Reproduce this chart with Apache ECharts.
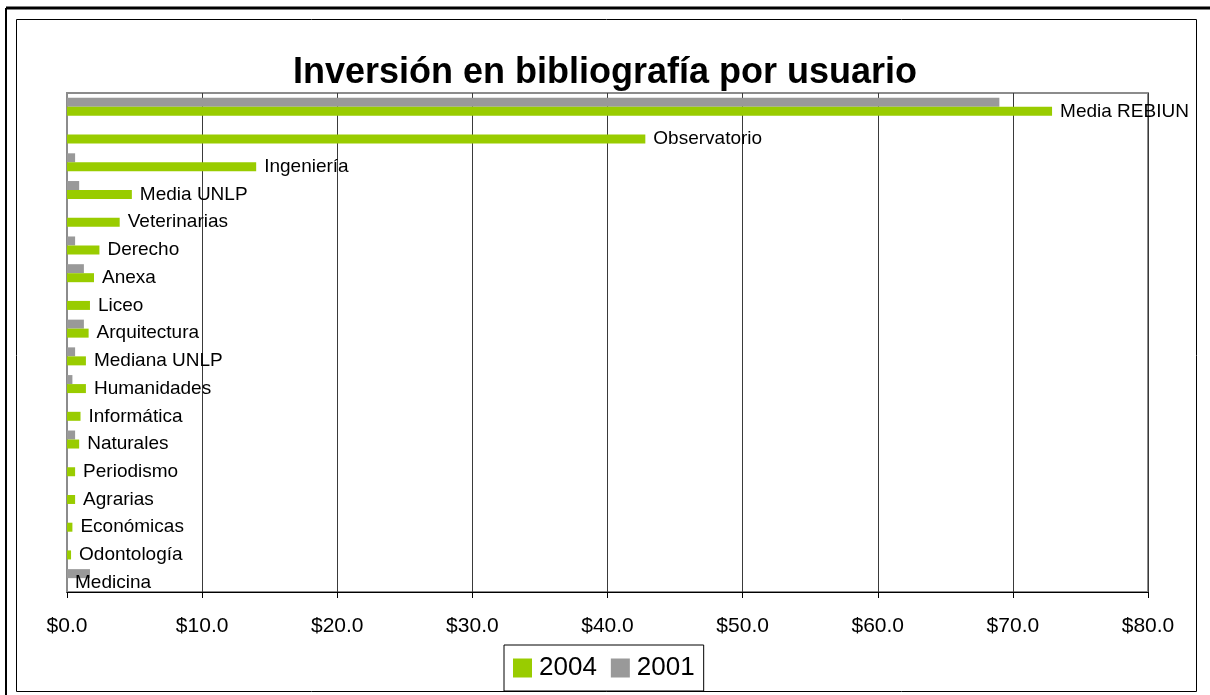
<!DOCTYPE html>
<html lang="es">
<head>
  <meta charset="UTF-8">
  <title>Inversión en bibliografía por usuario</title>
  <script src="https://cdn.jsdelivr.net/npm/echarts@6/dist/echarts.min.js"></script>
  <style>
    html, body { margin: 0; padding: 0; background: #fff; }
    #chart { width: 1210px; height: 695px; }
  </style>
</head>
<body>
<div id="chart"></div>
<script>
  // data (US$ per user)
  let categories = ['Media REBIUN', 'Observatorio', 'Ingeniería', 'Media UNLP', 'Veterinarias', 'Derecho',
    'Anexa', 'Liceo', 'Arquitectura', 'Mediana UNLP', 'Humanidades', 'Informática', 'Naturales',
    'Periodismo', 'Agrarias', 'Económicas', 'Odontología', 'Medicina'];
  let values2004 = [72.9, 42.8, 14.0, 4.8, 3.9, 2.4, 2.0, 1.7, 1.6, 1.4, 1.4, 1.0, 0.9, 0.6, 0.6, 0.4, 0.3, 0];
  let values2001 = [69.0, 0, 0.6, 0.9, 0, 0.6, 1.25, 0, 1.25, 0.6, 0.4, 0, 0.6, 0, 0, 0, 0, 1.7];
  let xTicks = [0, 80, 10]; // min, max, interval

  const FONT = '"Liberation Sans", Arial, sans-serif';
  let chart = echarts.init(document.getElementById('chart'));

  let option = {
    animation: false,
    textStyle: { fontFamily: FONT },
    title: {
      text: 'Inversión en bibliografía por usuario',
      left: 'center',
      top: 50,
      textStyle: { fontSize: 36, fontWeight: 'bold', color: '#000', fontFamily: FONT }
    },
    graphic: [
      // outer page frame
      { type: 'line', shape: { x1: 6, y1: 8, x2: 1210, y2: 8 }, style: { stroke: '#000', lineWidth: 3 } },
      { type: 'line', shape: { x1: 6, y1: 8, x2: 6, y2: 695 }, style: { stroke: '#000', lineWidth: 2 } },
      // chart area frame
      { type: 'rect', shape: { x: 16.5, y: 19.5, width: 1180, height: 672 },
        style: { fill: null, stroke: '#000', lineWidth: 1 } }
    ],
    legend: {
      data: ['2004', '2001'],
      left: 504,
      top: 645,
      orient: 'horizontal',
      padding: [10, 9, 10, 9],
      borderColor: '#000',
      borderWidth: 1,
      icon: 'rect',
      itemWidth: 19,
      itemHeight: 19,
      itemGap: 14,
      textStyle: { fontSize: 26, color: '#000', fontFamily: FONT, padding: [0, 0, 0, 2] }
    },
    grid: {
      left: 67,
      right: 62,
      top: 93,
      bottom: 103,
      show: true,
      borderColor: '#8c8c8c',
      borderWidth: 2,
      containLabel: false
    },
    xAxis: {
      type: 'value',
      min: xTicks[0],
      max: xTicks[1],
      interval: xTicks[2],
      axisLine: { show: true, lineStyle: { color: '#000', width: 1 } },
      axisTick: { show: true, length: 6, lineStyle: { color: '#000' } },
      axisLabel: {
        margin: 24,
        fontSize: 21,
        color: '#000',
        fontFamily: FONT,
        formatter: function (v) { return '$' + v.toFixed(1); }
      },
      splitLine: { show: true, lineStyle: { color: '#3a3a3a', width: 1 } }
    },
    yAxis: {
      type: 'category',
      data: categories,
      inverse: true,
      axisLine: { show: true, lineStyle: { color: '#8c8c8c', width: 2 } },
      axisTick: { show: false },
      axisLabel: { show: false },
      splitLine: { show: false }
    },
    series: [
      {
        name: '2001',
        type: 'bar',
        data: values2001,
        barWidth: 9,
        barGap: '0%',
        itemStyle: { color: '#999999' }
      },
      {
        name: '2004',
        type: 'bar',
        data: values2004,
        barWidth: 9,
        barGap: '0%',
        itemStyle: { color: '#99cc00' },
        label: {
          show: true,
          position: 'right',
          distance: 8,
          formatter: '{b}',
          fontSize: 19,
          color: '#000',
          fontFamily: FONT
        }
      }
    ]
  };
  chart.setOption(option);
</script>
</body>
</html>
